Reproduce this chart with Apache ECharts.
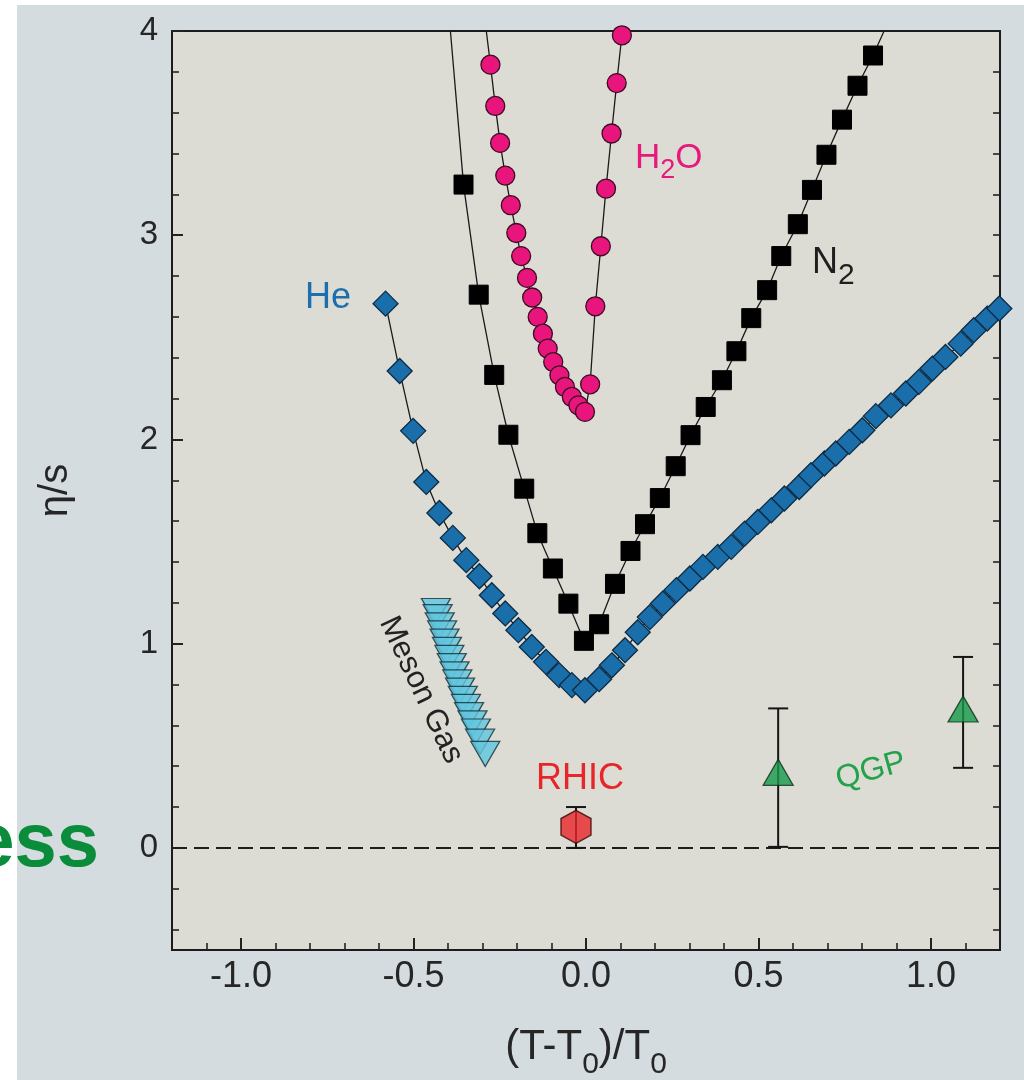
<!DOCTYPE html>
<html>
<head>
<meta charset="utf-8">
<script src="https://cdn.jsdelivr.net/npm/echarts@6/dist/echarts.min.js"></script>
<style>
html,body{margin:0;padding:0;background:#ffffff;}
#chart{width:1024px;height:1080px;}
</style>
</head>
<body>
<div id="chart"></div>
<script>
// ---------- data ----------
const heX = [-0.581, -0.540, -0.501, -0.463, -0.425, -0.386, -0.347, -0.309, -0.273, -0.234, -0.196, -0.157, -0.116, -0.078, -0.041, -0.003,
             0.038, 0.075, 0.113, 0.150, 0.185, 0.223, 0.262, 0.301, 0.339, 0.382, 0.421, 0.460, 0.498, 0.537, 0.575, 0.618, 0.652, 0.691,
             0.724, 0.763, 0.801, 0.840, 0.884, 0.927, 0.965, 1.004, 1.042, 1.086, 1.124, 1.163, 1.198];
const heY = [2.665, 2.335, 2.042, 1.792, 1.640, 1.518, 1.409, 1.330, 1.237, 1.148, 1.066, 0.984, 0.911, 0.846, 0.797, 0.772,
             0.826, 0.894, 0.968, 1.056, 1.130, 1.197, 1.262, 1.319, 1.376, 1.425, 1.474, 1.539, 1.596, 1.653, 1.711, 1.767, 1.825, 1.882,
             1.931, 1.988, 2.045, 2.114, 2.167, 2.225, 2.282, 2.347, 2.404, 2.469, 2.535, 2.592, 2.641];

const n2X = [-0.355, -0.311, -0.266, -0.225, -0.179, -0.141, -0.096, -0.051, -0.006, 0.038, 0.084, 0.129, 0.171, 0.214,
             0.260, 0.303, 0.347, 0.394, 0.436, 0.479, 0.525, 0.566, 0.614, 0.655, 0.697, 0.742, 0.787, 0.832];
const n2Y = [3.248, 2.709, 2.316, 2.023, 1.759, 1.541, 1.368, 1.196, 1.014, 1.095, 1.293, 1.454, 1.585, 1.713,
             1.869, 2.021, 2.159, 2.290, 2.432, 2.594, 2.731, 2.898, 3.054, 3.222, 3.394, 3.566, 3.732, 3.880];
const n2CurveStart = [-0.393, 4.0];   // where the N2 curve leaves the frame (no marker)
const n2CurveEnd = [0.864, 4.0];

const h2oX = [-0.277, -0.263, -0.249, -0.234, -0.218, -0.202, -0.188, -0.171, -0.156, -0.140, -0.125, -0.111, -0.095,
              -0.077, -0.061, -0.041, -0.022, -0.003, 0.012, 0.027, 0.043, 0.058, 0.074, 0.089, 0.104];
const h2oY = [3.835, 3.633, 3.452, 3.292, 3.147, 3.011, 2.898, 2.791, 2.695, 2.600, 2.518, 2.445, 2.379,
              2.314, 2.257, 2.208, 2.167, 2.135, 2.270, 2.652, 2.946, 3.228, 3.498, 3.745, 3.979];
const h2oCurveStart = [-0.289, 4.0];

const mesonX = [-0.435, -0.430, -0.424, -0.417, -0.410, -0.403, -0.396, -0.389, -0.381, -0.373, -0.365, -0.357, -0.348,
                -0.339, -0.329, -0.319, -0.307, -0.292];
const mesonY = [1.16, 1.13, 1.09, 1.05, 1.01, 0.97, 0.93, 0.89, 0.85, 0.81, 0.77, 0.73, 0.69, 0.65, 0.61, 0.57, 0.52, 0.46];

const rhicX = [-0.029];
const rhicY = [0.103];
const rhicLow = [0.0];
const rhicHigh = [0.20];

const qgpX = [0.557, 1.093];
const qgpY = [0.37, 0.68];
const qgpLow = [0.005, 0.392];
const qgpHigh = [0.683, 0.935];

const xMajorTicks = [-1.0, -0.5, 0.0, 0.5, 1.0];
const xMinorTicks = [-1.1, -0.9, -0.8, -0.7, -0.6, -0.4, -0.3, -0.2, -0.1, 0.1, 0.2, 0.3, 0.4, 0.6, 0.7, 0.8, 0.9, 1.1];
const yMajorTicks = [0, 1, 2, 3, 4];
const yMinorTicks = [-0.4, -0.2, 0.2, 0.4, 0.6, 0.8, 1.2, 1.4, 1.6, 1.8, 2.2, 2.4, 2.6, 2.8, 3.2, 3.4, 3.6, 3.8];
const yRightTicks = [-0.4, -0.2, 0, 0.2, 0.4, 0.6, 0.8, 1, 1.2, 1.4, 1.6, 1.8, 2, 2.2, 2.4, 2.6, 2.8, 3, 3.2, 3.4, 3.6, 3.8];

// ---------- chart ----------
const FONT = "'Liberation Sans', Arial, Helvetica, sans-serif";
const zip = (xs, ys) => xs.map((x, i) => [x, ys[i]]);
const noMark = p => ({ value: p, symbol: 'none' });

function errRender(params, api) {
  const x = api.value(0), lo = api.value(1), hi = api.value(2);
  const a = api.coord([x, lo]), b = api.coord([x, hi]);
  const c = 10;
  const st = { stroke: '#151515', lineWidth: 2 };
  return {
    type: 'group',
    children: [
      { type: 'line', shape: { x1: a[0], y1: a[1], x2: b[0], y2: b[1] }, style: st },
      { type: 'line', shape: { x1: a[0] - c, y1: a[1], x2: a[0] + c, y2: a[1] }, style: st },
      { type: 'line', shape: { x1: b[0] - c, y1: b[1], x2: b[0] + c, y2: b[1] }, style: st }
    ]
  };
}

const tickStyle = { color: '#222', width: 2 };
const hidden = { show: false };
const noLine = { show: false, onZero: false };

const option = {
  animation: false,
  backgroundColor: '#d4dce0',
  grid: {
    left: 172, top: 31, width: 828, height: 919,
    outerBoundsMode: 'none', containLabel: false,
    show: true, backgroundColor: '#dddcd4', borderColor: '#1c1c1c', borderWidth: 2
  },
  xAxis: [
    {
      type: 'value', min: -1.2, max: 1.2, position: 'bottom',
      axisLine: noLine, splitLine: hidden,
      axisTick: { show: true, inside: true, length: 12, customValues: xMajorTicks, lineStyle: tickStyle },
      axisLabel: { customValues: xMajorTicks, formatter: v => v.toFixed(1), fontSize: 36, fontFamily: FONT, color: '#262626', margin: 9 },
      name: '{m|(T-T}{s|0}{m|)/T}{s|0}',
      nameLocation: 'middle', nameGap: 76,
      nameTextStyle: {
        fontFamily: FONT, color: '#262626', fontSize: 42,
        rich: {
          m: { fontFamily: FONT, fontSize: 42, lineHeight: 54, verticalAlign: 'top', color: '#262626' },
          s: { fontFamily: FONT, fontSize: 30, lineHeight: 54, verticalAlign: 'bottom', color: '#262626' }
        }
      }
    },
    {
      type: 'value', min: -1.2, max: 1.2, position: 'bottom',
      axisLine: noLine, splitLine: hidden, axisLabel: hidden,
      axisTick: { show: true, inside: true, length: 7, customValues: xMinorTicks, lineStyle: { color: '#222', width: 1.6 } }
    }
  ],
  yAxis: [
    {
      type: 'value', min: -0.5, max: 4, position: 'left',
      axisLine: noLine, splitLine: hidden,
      axisTick: { show: true, inside: true, length: 11, customValues: yMajorTicks, lineStyle: tickStyle },
      axisLabel: { customValues: yMajorTicks, fontSize: 33, fontFamily: FONT, color: '#262626', margin: 14 },
      name: 'η/s', nameLocation: 'middle', nameGap: 96, nameRotate: 90,
      nameTextStyle: { fontFamily: FONT, fontSize: 40, color: '#262626' }
    },
    {
      type: 'value', min: -0.5, max: 4, position: 'left',
      axisLine: noLine, splitLine: hidden, axisLabel: hidden,
      axisTick: { show: true, inside: true, length: 7, customValues: yMinorTicks, lineStyle: { color: '#222', width: 1.6 } }
    },
    {
      type: 'value', min: -0.5, max: 4, position: 'right',
      axisLine: noLine, splitLine: hidden, axisLabel: hidden,
      axisTick: { show: true, inside: true, length: 7, customValues: yRightTicks, lineStyle: { color: '#222', width: 1.6 } }
    }
  ],
  series: [
    {
      name: 'He', type: 'line', clip: false, z: 2,
      data: zip(heX, heY),
      symbol: 'diamond', symbolSize: 25,
      itemStyle: { color: '#1a6ea9', borderColor: '#0c2b45', borderWidth: 1.3 },
      lineStyle: { color: '#1a1a1a', width: 1.3 },
      markLine: {
        silent: true, symbol: ['none', 'none'], label: hidden,
        lineStyle: { type: [15, 7], color: '#1e1e1e', width: 2 },
        data: [{ yAxis: 0 }]
      }
    },
    {
      name: 'N2', type: 'line', clip: false, z: 3,
      data: [noMark(n2CurveStart), ...zip(n2X, n2Y), noMark(n2CurveEnd)],
      symbol: 'rect', symbolSize: 19,
      itemStyle: { color: '#000000', borderColor: '#000', borderWidth: 1 },
      lineStyle: { color: '#1a1a1a', width: 1.3 }
    },
    {
      name: 'H2O', type: 'line', clip: false, z: 4,
      data: [noMark(h2oCurveStart), ...zip(h2oX, h2oY)],
      symbol: 'circle', symbolSize: 19,
      itemStyle: { color: '#e8157c', borderColor: '#3b0c22', borderWidth: 1.3 },
      lineStyle: { color: '#1a1a1a', width: 1.3 }
    },
    {
      name: 'Meson Gas', type: 'scatter', z: 4,
      data: zip(mesonX, mesonY),
      symbol: 'triangle', symbolRotate: 180, symbolSize: [29, 25],
      itemStyle: { color: '#62c6df', borderColor: '#0f2f3b', borderWidth: 1.3 }
    },
    {
      name: 'RHIC err', type: 'custom', z: 5,
      data: rhicX.map((x, i) => [x, rhicLow[i], rhicHigh[i]]),
      encode: { x: 0, y: [1, 2] },
      renderItem: errRender
    },
    {
      name: 'RHIC', type: 'scatter', z: 6,
      data: zip(rhicX, rhicY),
      symbol: 'path://M0,-10 L8.66,-5 L8.66,5 L0,10 L-8.66,5 L-8.66,-5 Z', symbolSize: [30, 33],
      itemStyle: { color: '#e8262a', borderColor: '#3a0808', borderWidth: 1.5 }
    },
    {
      name: 'QGP err', type: 'custom', z: 5,
      data: qgpX.map((x, i) => [x, qgpLow[i], qgpHigh[i]]),
      encode: { x: 0, y: [1, 2] },
      renderItem: errRender
    },
    {
      name: 'QGP', type: 'scatter', z: 6,
      data: zip(qgpX, qgpY),
      symbol: 'triangle', symbolSize: [30, 26],
      itemStyle: { color: '#17994a', borderColor: '#0b2e16', borderWidth: 1.3 }
    }
  ],
  graphic: [
    { type: 'rect', z: 1, shape: { x: 0, y: 0, width: 17, height: 1080 }, style: { fill: '#ffffff' } },
    { type: 'rect', z: 1, shape: { x: 0, y: 0, width: 1024, height: 5 }, style: { fill: '#ffffff' } },
    { type: 'text', z: 10, x: 99, y: 845, style: { text: 'ess', fontFamily: FONT, fontWeight: 'bold', fontSize: 76, fill: '#0a8c3b', align: 'right', verticalAlign: 'middle' } },
    { type: 'text', z: 10, x: 328, y: 298, style: { text: 'He', fontFamily: FONT, fontSize: 36, fill: '#1c6fae', align: 'center', verticalAlign: 'middle' } },
    { type: 'text', z: 10, x: 635, y: 141, style: {
        text: '{m|H}{s|2}{m|O}', align: 'left', verticalAlign: 'top',
        rich: {
          m: { fontFamily: FONT, fontSize: 35, lineHeight: 43, verticalAlign: 'top', fill: '#e8187c' },
          s: { fontFamily: FONT, fontSize: 27, lineHeight: 43, verticalAlign: 'bottom', fill: '#e8187c' }
        } } },
    { type: 'text', z: 10, x: 812, y: 245, style: {
        text: '{m|N}{s|2}', align: 'left', verticalAlign: 'top',
        rich: {
          m: { fontFamily: FONT, fontSize: 36, lineHeight: 46, verticalAlign: 'top', fill: '#1e1e1e' },
          s: { fontFamily: FONT, fontSize: 30, lineHeight: 46, verticalAlign: 'bottom', fill: '#1e1e1e' }
        } } },
    { type: 'text', z: 10, x: 580, y: 779, style: { text: 'RHIC', fontFamily: FONT, fontSize: 36, fill: '#e8262a', align: 'center', verticalAlign: 'middle' } },
    { type: 'text', z: 10, x: 871, y: 771, rotation: 0.27, style: { text: 'QGP', fontFamily: FONT, fontSize: 32, fill: '#22a24a', align: 'center', verticalAlign: 'middle' } },
    { type: 'text', z: 10, x: 421, y: 690, rotation: -1.13, style: { text: 'Meson Gas', fontFamily: FONT, fontSize: 31, fill: '#222222', align: 'center', verticalAlign: 'middle' } }
  ]
};

const chart = echarts.init(document.getElementById('chart'), null, { renderer: 'canvas', width: 1024, height: 1080 });
chart.setOption(option);
</script>
</body>
</html>
